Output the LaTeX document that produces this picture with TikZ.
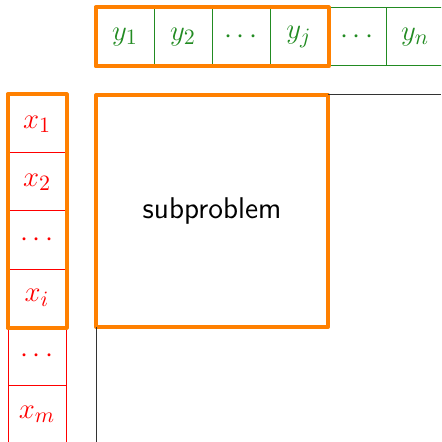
\documentclass[tikz,border=0pt]{standalone}
\definecolor{cgreen}{RGB}{34,139,34}
\definecolor{corange}{RGB}{255,128,0}
\tikzset{
  cellbase/.style={line width=0.5pt, minimum width=29pt, minimum height=29pt, inner sep=0pt, font=\fontsize{15}{18}\selectfont},
  ycell/.style={cellbase, draw=cgreen, text=cgreen},
  xcell/.style={cellbase, draw=red, text=red},
  hl/.style={draw=corange, line width=2pt, line join=round},
  guide/.style={draw=black!80, line width=0.5pt}
}
\begin{document}
\begin{tikzpicture}[x=0.5pt,y=-0.5pt]
\useasboundingbox (0,0) rectangle (441,442);
\clip (0,0) rectangle (441,442);
% top row
\node[ycell] (y1) at (125,37) {$y_1$};
\node[ycell] (y2) at (183,37) {$y_2$};
\node[ycell] (yd) at (241,37) {$\cdots$};
\node[ycell] (yj) at (299,37) {$y_j$};
\node[ycell] (ye) at (357,37) {$\cdots$};
\node[ycell] (yn) at (415,37) {$y_n$};
% left column
\node[xcell] (x1) at (37,124) {$x_1$};
\node[xcell] (x2) at (37,182) {$x_2$};
\node[xcell] (xd) at (37,240) {$\cdots$};
\node[xcell] (xi) at (37,298) {$x_i$};
\node[xcell] (xe) at (37,356) {$\cdots$};
\node[xcell] (xm) at (37,414) {$x_m$};
% highlights
\draw[hl] (y1.north west) rectangle (yj.south east);
\draw[hl] (x1.north west) rectangle (xi.south east);
\node[hl, outer sep=0pt, minimum width=116pt, minimum height=116pt, font=\fontsize{15}{18}\selectfont\sffamily] (sub) at (212,211) {subproblem};
% guides
\coordinate (gr) at (441,95);
\coordinate (gb) at (96,442);
\draw[guide] (sub.north east) -- (gr);
\draw[guide] (sub.south west) -- (gb);
\end{tikzpicture}
\end{document}
